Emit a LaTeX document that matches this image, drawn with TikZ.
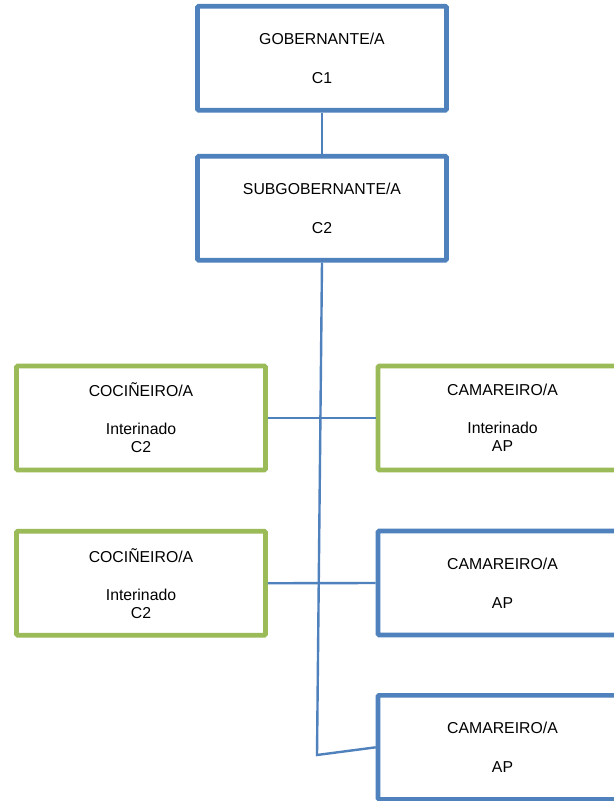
\documentclass[tikz,border=0pt]{standalone}
\usepackage{fontspec}
\setmainfont{Liberation Sans}
\definecolor{boxblue}{HTML}{4F81BD}
\definecolor{boxgreen}{HTML}{9BBB59}
\tikzset{
  orgbox/.style={draw, line width=3.4pt, rounded corners=0.8pt, fill=white,
    minimum width=186.75pt, minimum height=78pt, inner sep=0pt,
    align=center, font=\fontsize{11.85}{13.5}\selectfont},
  bluebox/.style={orgbox, draw=boxblue},
  greenbox/.style={orgbox, draw=boxgreen},
  link/.style={draw=boxblue, line width=1.8pt}
}
\begin{document}
\begin{tikzpicture}[x=0.75pt, y=-0.75pt]
\clip (0,0) rectangle (614,801);
\fill[white] (0,0) rectangle (614,801);
\node[bluebox] (gob) at (322,58.25) {GOBERNANTE/A\\[15.6pt]C1};
\node[bluebox] (sub) at (322,208.25) {SUBGOBERNANTE/A\\[15.6pt]C2};
\node[greenbox] (coc1) at (141,418) {COCIÑEIRO/A\\[15pt]Interinado\\C2};
\node[greenbox] (coc2) at (141,583.25) {COCIÑEIRO/A\\[15pt]Interinado\\C2};
\node[greenbox] (cam1) at (502.5,418) {CAMAREIRO/A\\[15pt]Interinado\\AP};
\node[bluebox] (cam2) at (502.5,583) {CAMAREIRO/A\\[15.6pt]AP};
\node[bluebox] (cam3) at (502.5,747.3) {CAMAREIRO/A\\[15.6pt]AP};
\coordinate (bend) at (317,755);
\path[link] (gob.south) -- (sub.north);
\path[link] (sub.south) -- (bend) -- (cam3.west);
\path[link] (coc1.east) -- (cam1.west);
\path[link] (coc2.east) -- (cam2.west);
\end{tikzpicture}
\end{document}
